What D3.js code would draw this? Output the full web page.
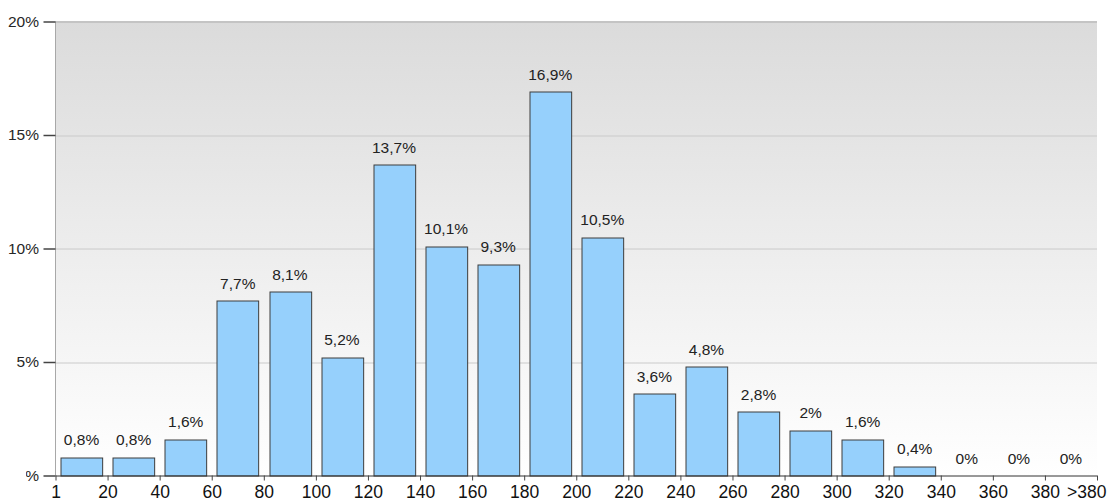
<!DOCTYPE html>
<html>
<head>
<meta charset="utf-8">
<script src="https://cdn.jsdelivr.net/npm/d3@7"></script>
<style>
  html, body { margin: 0; padding: 0; background: #fff; }
  svg { display: block; font-family: Arial, "Liberation Sans", sans-serif; }
</style>
</head>
<body>
<svg id="chart" width="1110" height="504"></svg>
<script>
// Histogram bins (edges) and share of items per bin, in percent
const edgeLabels = ["1", "20", "40", "60", "80", "100", "120", "140", "160", "180", "200",
                    "220", "240", "260", "280", "300", "320", "340", "360", "380", ">380"];
const shares = [0.8, 0.8, 1.6, 7.7, 8.1, 5.2, 13.7, 10.1, 9.3, 16.9, 10.5,
                3.6, 4.8, 2.8, 2, 1.6, 0.4, 0, 0, 0];
const yTicks = [0, 5, 10, 15, 20];

const W = 1110, H = 504;
const margin = { top: 21.5, right: 13, bottom: 28.5, left: 55.5 };
const innerW = W - margin.left - margin.right;
const innerH = H - margin.top - margin.bottom;

const svg = d3.select("#chart");
const defs = svg.append("defs");

const grad = defs.append("linearGradient")
  .attr("id", "bg").attr("x1", 0).attr("y1", 0).attr("x2", 0).attr("y2", 1);
grad.append("stop").attr("offset", "0%").attr("stop-color", "#dbdbdb");
grad.append("stop").attr("offset", "100%").attr("stop-color", "#ffffff");

// y-axis labels region: the lowest label runs into the left window edge
const yClip = defs.append("clipPath").attr("id", "yclip");
yClip.append("rect").attr("x", 0).attr("y", 0).attr("width", W).attr("height", H - 38);
yClip.append("rect").attr("x", 26).attr("y", 0).attr("width", W).attr("height", H);

const g = svg.append("g").attr("transform", `translate(${margin.left},${margin.top})`);

const bins = d3.range(shares.length);
const x = d3.scaleBand().domain(bins).range([0, innerW]).paddingInner(0.2).paddingOuter(0.1);
const xEdge = d3.scaleLinear().domain([0, shares.length]).range([0, innerW]);
const y = d3.scaleLinear().domain([0, 20]).range([innerH, 0]);

const fmt = v => String(v).replace(".", ",") + "%";

// plot background
g.append("rect")
  .attr("width", innerW).attr("height", innerH)
  .attr("fill", "url(#bg)");

// horizontal grid lines
g.append("g").selectAll("line")
  .data(yTicks.filter(t => t > 0))
  .join("line")
  .attr("x1", 0).attr("x2", innerW)
  .attr("y1", d => Math.round(y(d)) + 0.5).attr("y2", d => Math.round(y(d)) + 0.5)
  .attr("stroke", d => d === 20 ? "#c4c4c4" : "#cacaca")
  .attr("stroke-width", d => d === 20 ? 2 : 1);

// left frame line
g.append("line")
  .attr("x1", 0).attr("x2", 0).attr("y1", 0).attr("y2", innerH)
  .attr("stroke", "#a8a8a8");

// bars
g.append("g").selectAll("rect")
  .data(bins.filter(i => shares[i] > 0))
  .join("rect")
  .attr("x", i => Math.round(x(i)) + 0.5)
  .attr("y", i => Math.round(y(shares[i])) + 0.5)
  .attr("width", x.bandwidth())
  .attr("height", i => Math.round(innerH) - Math.round(y(shares[i])))
  .attr("fill", "#96d0fc")
  .attr("stroke", "#3c3c3c")
  .attr("stroke-width", 1);

// value labels
g.append("g").selectAll("text")
  .data(bins)
  .join("text")
  .attr("x", i => x(i) + x.bandwidth() / 2)
  .attr("y", i => y(shares[i]) - 12)
  .attr("text-anchor", "middle")
  .attr("font-size", 15.5)
  .attr("fill", "#222")
  .text(i => fmt(shares[i]));

// y axis
const yAxis = svg.append("g").attr("clip-path", "url(#yclip)")
  .append("g").attr("transform", `translate(${margin.left},${margin.top})`)
  .call(d3.axisLeft(y).tickValues(yTicks).tickSize(12).tickPadding(4.5).tickFormat(d => d + "%"));
yAxis.select(".domain").remove();
yAxis.selectAll(".tick line").attr("stroke", "#444").attr("stroke-width", 1.5);
yAxis.selectAll(".tick text")
  .attr("font-size", 15.5).attr("fill", "#262626").attr("font-family", null);

// x axis with labels on bin edges
const xAxis = g.append("g")
  .attr("transform", `translate(0,${innerH})`)
  .call(d3.axisBottom(xEdge).tickValues(d3.range(edgeLabels.length)).tickSize(5).tickPadding(5)
    .tickFormat(i => edgeLabels[i]));
xAxis.select(".domain").attr("stroke", "#333").attr("d", `M0,0.5H${innerW}`);
xAxis.selectAll(".tick line").attr("stroke", "#444");
xAxis.selectAll(".tick text")
  .attr("font-size", 17.5).attr("fill", "#111").attr("font-family", null);
// the last edge label is kept inside the window
xAxis.selectAll(".tick text")
  .filter(i => i === edgeLabels.length - 1)
  .attr("text-anchor", "end").attr("x", W - 4 - margin.left - xEdge(edgeLabels.length - 1));
</script>
</body>
</html>
